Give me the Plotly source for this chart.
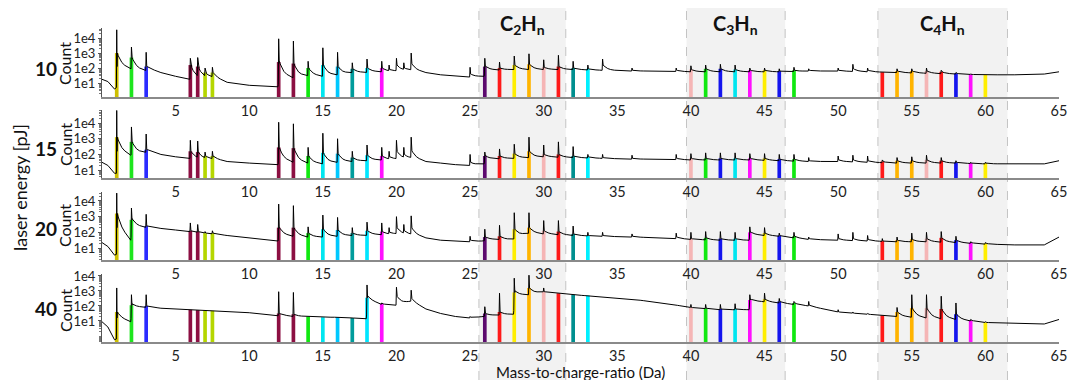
import numpy as np
import plotly.graph_objects as go
from plotly.subplots import make_subplots

# ---------------- data (log10 counts) ----------------
energies = ["10", "15", "20", "40"]

knot_mass = [0, 0.4, 0.85, 0.98, 1.02, 1.95, 2.05, 2.95, 3.05, 4, 5, 5.95, 7, 7.6, 8.5, 10,
             11.95, 12.05, 13, 14, 15, 16, 17, 17.95, 18.05, 19, 20, 21, 22, 23, 24, 25,
             25.95, 26.05, 27.95, 28.05, 29, 30, 32, 34, 36, 38, 40, 42, 43.95, 44.05, 46,
             48, 50, 52, 54, 56, 58, 60, 62, 64, 65]

base10 = [1.25, 1.1, 0.6, 0.7, 2.1, 1.95, 1.95, 1.8, 2.0, 1.7, 1.45, 1.25, 1.3, 1.35, 1.05, 0.85,
          0.75, 1.45, 1.35, 1.5, 1.45, 1.55, 1.7, 1.7, 1.75, 1.75, 1.8, 1.85, 1.7, 1.55, 1.45, 1.4,
          1.45, 1.85, 1.9, 1.9, 1.9, 1.9, 1.9, 1.85, 1.8, 1.8, 1.75, 1.75, 1.75, 1.75, 1.75,
          1.8, 1.8, 1.75, 1.7, 1.65, 1.6, 1.55, 1.55, 1.6, 1.75]
base15 = [1.5, 1.3, 0.8, 0.8, 2.2, 1.95, 2.1, 2.1, 2.3, 2.0, 1.85, 1.75, 1.7, 1.7, 1.55, 1.45,
          1.35, 1.6, 1.5, 1.45, 1.4, 1.5, 1.55, 1.6, 1.6, 1.65, 1.7, 1.75, 1.55, 1.45, 1.35, 1.3,
          1.4, 1.7, 1.75, 1.75, 1.8, 1.85, 1.8, 1.75, 1.7, 1.7, 1.65, 1.65, 1.65, 1.65, 1.6,
          1.55, 1.55, 1.5, 1.45, 1.45, 1.45, 1.4, 1.4, 1.4, 1.6]
base20 = [1.35, 1.1, 0.55, 0.6, 2.3, 1.5, 2.4, 2.3, 2.4, 2.25, 2.15, 2.05, 1.95, 1.9, 1.8, 1.65,
          1.45, 1.8, 1.75, 1.7, 1.7, 1.75, 1.8, 1.8, 1.85, 1.85, 1.9, 1.85, 1.65, 1.5, 1.45, 1.4,
          1.45, 1.55, 1.55, 1.7, 1.95, 1.9, 1.8, 1.75, 1.7, 1.65, 1.55, 1.5, 1.5, 1.85, 1.75,
          1.55, 1.5, 1.45, 1.4, 1.4, 1.35, 1.25, 1.2, 1.2, 1.7]
base40 = [0.95, 0.6, -0.25, -0.2, 1.2, 0.95, 1.95, 1.9, 1.95, 1.85, 1.8, 1.75, 1.7, 1.65, 1.6, 1.55,
          1.35, 1.4, 1.3, 1.3, 1.25, 1.25, 1.2, 1.15, 2.4, 2.1, 2.05, 2.3, 1.8, 1.5, 1.3, 1.2,
          1.3, 1.35, 1.45, 2.7, 2.75, 2.95, 2.75, 2.6, 2.45, 2.2, 1.9, 1.75, 1.75, 2.35, 2.2,
          2.0, 1.6, 1.45, 1.3, 1.2, 1.1, 0.9, 0.85, 0.8, 1.1]

peak_mass = [1, 2, 3, 6, 6.5, 7, 7.5, 12, 13, 14, 15, 16, 17, 18, 19, 19.5, 20, 20.5, 21, 25,
             26, 27, 28, 29, 30, 31, 32, 33, 34, 36, 39, 40, 41, 42, 43, 44, 45, 46, 47, 48,
             50, 51, 52, 53, 54, 55, 56, 57, 58, 59, 60]

MAROON, YG, GRN, CYN, BLU, MAG = "#8c0f42", "#b5d600", "#10e810", "#00e6f0", "#1414ee", "#ff10ff"
RED, YEL, ORG, PNK, TEAL = "#ff1a1a", "#ffee00", "#ffb400", "#f5b5b5", "#008f8f"
peak_color = ["#cdbf00", "#1ee61e", "#2b2bff", MAROON, MAROON, YG, YG, MAROON, MAROON, GRN,
              CYN, "#00c8ff", "#009c9c", "#00e6ff", MAG, None, None, None, None, None,
              "#5c0a6e", RED, YEL, ORG, PNK, RED, TEAL, "#00f0ff", None, None, None,
              PNK, GRN, BLU, CYN, MAG, YEL, BLU, GRN, None,
              None, None, None, RED, ORG, ORG, PNK, RED, BLU, MAG, YEL]

top10 = [4.55, 3.4, 3.05, 2.65, 2.7, 2.0, 2.05, 3.95, 3.8, 2.45, 3.35, 3.05, 2.35, 2.6, 2.45,
         2.2, 2.65, 2.35, 3.0, 2.05, 2.65, 2.4, 2.8, 2.95, 2.55, 2.85, 2.45, 2.2, 2.6, 2.0, 2.0,
         2.15, 2.2, 2.25, 2.2, 2.0, 2.0, 1.95, 2.05, 1.95, 2.0, 2.25, 2.0, 1.75, 1.95, 1.95,
         2.0, 1.85, 1.7, 1.6, 1.55]
sh10 = [3.0, 2.7, 2.1, 2.2, 2.1, 1.7, 1.7, 2.4, 2.3, 2.0, 2.2, 2.1, 1.95, 2.0, 2.0, 1.9, 2.2,
        2.0, 2.3, 1.6, 2.1, 2.0, 2.2, 2.25, 2.05, 2.1, 2.0, 1.95, 2.2, 1.85, 1.85, 1.9, 1.95,
        1.95, 1.9, 1.85, 1.85, 1.8, 1.85, 1.85, 1.85, 1.95, 1.85, 1.7, 1.8, 1.8, 1.8, 1.75,
        1.65, 1.55, 1.5]
top15 = [4.8, 3.75, 3.3, 2.9, 2.85, 2.15, 2.2, 4.05, 3.95, 2.45, 3.35, 3.0, 2.2, 2.6, 2.45,
         2.2, 2.9, 2.45, 3.1, 2.0, 2.15, 2.35, 2.65, 3.1, 2.6, 2.8, 2.5, 2.0, 2.0, 1.95, 2.0,
         2.05, 2.1, 2.1, 2.1, 2.05, 2.05, 2.0, 2.0, 1.8, 1.9, 1.95, 1.9, 1.65, 1.8, 1.85, 1.95,
         1.8, 1.6, 1.5, 1.5]
sh15 = [3.1, 2.8, 2.3, 2.2, 2.15, 1.9, 1.9, 2.45, 2.4, 1.9, 2.1, 2.05, 1.8, 1.95, 1.9, 1.85,
        2.2, 2.0, 2.25, 1.5, 1.9, 1.9, 2.05, 2.2, 2.0, 2.0, 1.9, 1.85, 1.8, 1.75, 1.75, 1.75,
        1.75, 1.75, 1.75, 1.75, 1.75, 1.7, 1.7, 1.6, 1.65, 1.65, 1.6, 1.55, 1.6, 1.6, 1.65,
        1.6, 1.5, 1.45, 1.45]
top20 = [4.5, 3.55, 3.15, 2.6, 2.5, 2.05, 2.1, 3.8, 3.7, 2.35, 3.1, 2.95, 2.3, 2.65, 2.6,
         2.3, 3.0, 2.5, 3.05, 1.75, 2.2, 2.45, 3.25, 3.25, 2.75, 2.75, 2.4, 2.0, 2.0, 1.9, 1.95,
         2.0, 2.05, 2.05, 2.0, 2.35, 2.3, 1.95, 2.0, 1.7, 1.9, 2.0, 1.8, 1.6, 1.7, 1.95, 2.0,
         2.05, 1.75, 1.4, 1.35]
sh20 = [3.2, 2.8, 2.4, 2.1, 2.05, 1.95, 1.95, 2.3, 2.3, 1.95, 2.2, 2.15, 1.95, 2.1, 2.05,
        2.0, 2.3, 2.1, 2.3, 1.5, 1.7, 1.75, 2.2, 2.3, 2.1, 2.05, 1.9, 1.8, 1.8, 1.75, 1.7,
        1.6, 1.65, 1.6, 1.6, 2.0, 1.95, 1.8, 1.75, 1.6, 1.6, 1.6, 1.55, 1.45, 1.5, 1.55, 1.6,
        1.65, 1.5, 1.35, 1.3]
top40 = [3.2, 2.75, 2.75, 1.75, 1.72, 1.7, 1.68, 2.95, 2.9, 1.3, 1.25, 1.25, 1.2, 3.4, 2.2,
         2.1, 3.25, 2.3, 3.05, 1.3, 1.95, 2.85, 3.85, 4.05, 3.2, 2.85, 2.75, 2.7, 2.6, 2.45,
         2.1, 2.1, 2.1, 2.1, 2.15, 2.75, 2.85, 2.5, 2.3, 2.3, 1.75, 1.6, 1.5, 1.35, 1.9, 2.75,
         2.75, 2.65, 2.2, 1.1, 0.95]
sh40 = [1.6, 2.05, 2.0, 1.75, 1.72, 1.7, 1.68, 1.5, 1.45, 1.3, 1.25, 1.25, 1.2, 2.55, 2.15,
        2.05, 2.65, 2.3, 2.5, 1.25, 1.5, 1.6, 2.9, 3.2, 2.95, 2.85, 2.75, 2.7, 2.6, 2.45, 2.05,
        1.9, 1.85, 1.8, 1.8, 2.4, 2.45, 2.3, 2.2, 2.05, 1.6, 1.5, 1.45, 1.3, 1.6, 1.85, 1.85,
        1.8, 1.45, 1.05, 0.9]

x_ticks = [5, 10, 15, 20, 25, 30, 35, 40, 45, 50, 55, 60, 65]
y_tick_vals = [10, 100, 1000, 10000]
y_tick_text = ["1e1", "1e2", "1e3", "1e4"]

regions = [("C<sub>2</sub>H<sub>n</sub>", 25.6, 31.5),
           ("C<sub>3</sub>H<sub>n</sub>", 39.7, 46.4),
           ("C<sub>4</sub>H<sub>n</sub>", 52.7, 61.5)]

panels = [(base10, top10, sh10), (base15, top15, sh15), (base20, top20, sh20), (base40, top40, sh40)]

# ---------------- build ----------------
FONT = "Lato"
W, H = 1069, 380
ML, MR = 102, 10
PW = W - ML - MR


def px_x(p):
    return (p - ML) / PW


def px_y(p):
    return 1 - p / H


TAU = 0.3


def spectrum(base, tops, shs):
    xs = list(knot_mass)
    for m in peak_mass:
        xs += [m - 0.03, m, m + 0.04, m + 0.1, m + 0.2, m + 0.35, m + 0.55, m + 0.8]
    xs = np.unique(np.clip(np.array(xs, dtype=float), 0, 65))
    b = np.interp(xs, knot_mass, base)
    y = b.copy()
    for m, t, s in zip(peak_mass, tops, shs):
        bm = np.interp(m + 0.04, knot_mass, base)
        d = xs - m
        spike = np.isclose(d, 0)
        y[spike] = np.maximum(y[spike], t)
        tail = (d >= 0.039) & (d <= 0.9)
        y[tail] = np.maximum(y[tail], b[tail] + (s - bm) * np.exp(-(d[tail] - 0.04) / TAU))
    return xs, 10 ** y


fig = make_subplots(rows=4, cols=1)

domains = [(px_y(97), px_y(28)), (px_y(178), px_y(110)), (px_y(260), px_y(192)), (px_y(342), px_y(274))]
yranges = [(0.07, 4.67), (0.5, 4.83), (0.24, 4.57), (-0.4, 4.13)]

minor_vals = [k * 10 ** e for e in range(-1, 5) for k in range(2, 10)]

for i, (base, tops, shs) in enumerate(panels):
    r = i + 1
    bx, by, bc = [], [], []
    for m, c, s in zip(peak_mass, peak_color, shs):
        if c is None:
            continue
        bl = np.interp(m + 0.04, knot_mass, base)
        bx.append(m)
        by.append(10 ** max(s, bl))
        bc.append(c)
    fig.add_trace(go.Bar(x=bx, y=by, base=1e-3, width=0.25, marker=dict(color=bc, line=dict(width=0)),
                         showlegend=False, hoverinfo="skip"), row=r, col=1)
    xs, ys = spectrum(base, tops, shs)
    fig.add_trace(go.Scatter(x=xs, y=ys, mode="lines", line=dict(color="black", width=1),
                             showlegend=False), row=r, col=1)

    fig.update_xaxes(row=r, col=1, range=[0, 65], domain=[0, 1], tickvals=x_ticks, showline=True,
                     linecolor="#8a8a8a", linewidth=2, ticks="", showgrid=False, zeroline=False,
                     automargin=False, tickfont=dict(family=FONT, size=14.5, color="#222"))
    fig.update_yaxes(row=r, col=1, type="log", range=list(yranges[i]), domain=list(domains[i]),
                     tickvals=y_tick_vals, ticktext=y_tick_text, showline=True, linecolor="#555",
                     linewidth=1, ticks="outside", ticklen=3, tickcolor="#555", showgrid=False,
                     zeroline=False, automargin=False, tickfont=dict(family=FONT, size=13, color="#222"),
                     minor=dict(tickvals=minor_vals, ticks="outside", ticklen=2, tickcolor="#777"))

shapes = []
annotations = []
for name, x0, x1 in regions:
    shapes.append(dict(type="rect", xref="x", yref="paper", x0=x0, x1=x1, y0=0, y1=px_y(8),
                       fillcolor="#f2f2f2", line=dict(width=0), layer="below"))
    for xv in (x0, x1):
        shapes.append(dict(type="line", xref="x", yref="paper", x0=xv, x1=xv, y0=0, y1=px_y(8),
                           line=dict(color="#c4c4c4", width=1, dash="dash"), layer="below"))
    annotations.append(dict(text="<b>" + name + "</b>", xref="x", yref="paper", x=(x0 + x1) / 2,
                            y=px_y(25), showarrow=False, xanchor="center", yanchor="middle",
                            font=dict(family=FONT, size=20, color="#111")))

label_y = [68, 148, 228, 308]
count_y = [64, 145, 226, 311]
for e, ly, cy in zip(energies, label_y, count_y):
    annotations.append(dict(text="<b>" + e + "</b>", xref="paper", yref="paper", x=px_x(46), y=px_y(ly),
                            showarrow=False, xanchor="center", yanchor="middle",
                            font=dict(family=FONT, size=19, color="#111")))
    annotations.append(dict(text="Count", xref="paper", yref="paper", x=px_x(65), y=px_y(cy),
                            showarrow=False, xanchor="center", yanchor="middle", textangle=-90,
                            font=dict(family=FONT, size=16, color="#111")))

annotations.append(dict(text="laser energy [pJ]", xref="paper", yref="paper", x=px_x(20), y=px_y(188),
                        showarrow=False, xanchor="center", yanchor="middle", textangle=-90,
                        font=dict(family=FONT, size=18, color="#111")))
annotations.append(dict(text="Mass-to-charge-ratio (Da)", xref="paper", yref="paper", x=px_x(580),
                        y=px_y(371.5), showarrow=False, xanchor="center", yanchor="middle",
                        font=dict(family=FONT, size=15, color="#111")))

fig.update_layout(width=W, height=H, margin=dict(l=ML, r=MR, t=0, b=0, pad=0, autoexpand=False),
                  paper_bgcolor="white", plot_bgcolor="rgba(0,0,0,0)", barmode="overlay",
                  shapes=shapes, annotations=annotations, showlegend=False,
                  font=dict(family=FONT))

fig.write_html("out.html", config={"displayModeBar": False},
               post_script="document.body.style.margin='0';document.body.style.overflow='hidden';")
